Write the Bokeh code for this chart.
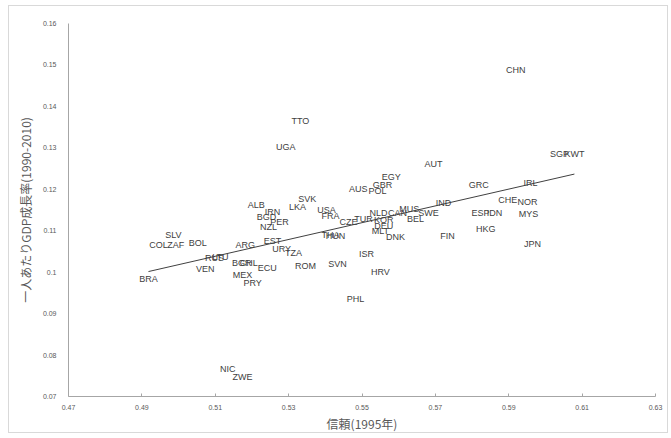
import numpy as np
from bokeh.plotting import figure
from bokeh.models import ColumnDataSource, FixedTicker
from bokeh.core.properties import value
from bokeh.embed import file_html
from bokeh.resources import INLINE

# Country codes, trust in 1995 and per-capita GDP growth 1990-2010
countries = [
    "BRA", "COL", "ZAF", "SLV", "BOL", "VEN", "RUS", "LTU", "BGR", "CHL",
    "MEX", "PRY", "ECU", "ARG", "EST", "NIC", "ZWE", "ALB", "IRN", "LKA",
    "BGD", "PER", "NZL", "URY", "TZA", "ROM", "TTO", "UGA", "SVK", "USA",
    "FRA", "CZE", "TUR", "HUN", "THA", "SVN", "ISR", "HRV", "PHL", "AUS",
    "POL", "GBR", "EGY", "AUT", "NLD", "CAN", "MUS", "SWE", "BEL", "KOR",
    "DEU", "MLT", "DNK", "IND", "FIN", "GRC", "ESP", "IDN", "HKG", "CHE",
    "NOR", "MYS", "JPN", "IRL", "SGP", "KWT", "CHN",
]
trust = [
    0.4918, 0.4945, 0.4992, 0.4986, 0.5052, 0.5073, 0.5098, 0.5114, 0.5172, 0.5191,
    0.5174, 0.5202, 0.5242, 0.5182, 0.5256, 0.5134, 0.5174, 0.5212, 0.5256, 0.5324,
    0.5240, 0.5275, 0.5245, 0.5281, 0.5313, 0.5346, 0.5332, 0.5292, 0.5351, 0.5403,
    0.5414, 0.5463, 0.5504, 0.5428, 0.5414, 0.5433, 0.5512, 0.5550, 0.5482, 0.5490,
    0.5542, 0.5556, 0.5580, 0.5695, 0.5545, 0.5597, 0.5629, 0.5681, 0.5646, 0.5559,
    0.5559, 0.5550, 0.5591, 0.5722, 0.5733, 0.5818, 0.5823, 0.5861, 0.5837, 0.5897,
    0.5951, 0.5954, 0.5965, 0.5959, 0.6038, 0.6079, 0.5919,
]
growth = [
    0.0984, 0.1066, 0.1066, 0.1090, 0.1071, 0.1008, 0.1035, 0.1037, 0.1022, 0.1022,
    0.0994, 0.0974, 0.1010, 0.1066, 0.1075, 0.0767, 0.0748, 0.1162, 0.1145, 0.1157,
    0.1133, 0.1121, 0.1109, 0.1056, 0.1047, 0.1015, 0.1364, 0.1302, 0.1177, 0.1150,
    0.1136, 0.1121, 0.1128, 0.1087, 0.1090, 0.1020, 0.1044, 0.1001, 0.0936, 0.1201,
    0.1196, 0.1210, 0.1229, 0.1261, 0.1143, 0.1143, 0.1152, 0.1143, 0.1128, 0.1126,
    0.1112, 0.1100, 0.1085, 0.1167, 0.1087, 0.1210, 0.1143, 0.1143, 0.1104, 0.1174,
    0.1169, 0.1140, 0.1068, 0.1215, 0.1285, 0.1285, 0.1487,
]

x_ticks = [0.47, 0.49, 0.51, 0.53, 0.55, 0.57, 0.59, 0.61, 0.63]
x_tick_labels = ["0.47", "0.49", "0.51", "0.53", "0.55", "0.57", "0.59", "0.61", "0.63"]
y_ticks = [0.07, 0.08, 0.09, 0.10, 0.11, 0.12, 0.13, 0.14, 0.15, 0.16]
y_tick_labels = ["0.07", "0.08", "0.09", "0.1", "0.11", "0.12", "0.13", "0.14", "0.15", "0.16"]

x_title = "信頼(1995年)"
y_title = "一人あたりGDP成長率(1990-2010)"

FONT = "Liberation Sans"
CJK = "Noto Sans CJK JP"

p = figure(
    width=660, height=428,
    x_range=(0.47, 0.63), y_range=(0.07, 0.16),
    output_backend="svg", toolbar_location=None,
    min_border_left=59, min_border_right=14, min_border_top=17, min_border_bottom=37,
    background_fill_color="white", border_fill_color="white",
)
p.styles = {"margin-left": "8px", "margin-top": "5px", "border": "1px solid #d9d9d9"}
p.outline_line_color = None
p.grid.grid_line_color = None

for ax in (p.xaxis[0], p.yaxis[0]):
    ax.axis_line_color = "#a6a6a6"
    ax.major_tick_line_color = "#a6a6a6"
    ax.minor_tick_line_color = None
    ax.major_label_text_font = FONT
    ax.major_label_text_font_size = "7px"
    ax.major_label_text_color = "#595959"
    ax.axis_label_text_font = CJK
    ax.axis_label_text_font_style = "normal"
    ax.axis_label_text_color = "#595959"
    ax.axis_label_text_font_size = "12px"

p.xaxis.ticker = FixedTicker(ticks=x_ticks)
p.xaxis.major_label_overrides = dict(zip(x_ticks, x_tick_labels))
p.xaxis.major_tick_in = 3
p.xaxis.major_tick_out = 0
p.xaxis.major_label_standoff = 8
p.xaxis.axis_label = x_title
p.xaxis.axis_label_standoff = 2

p.yaxis.ticker = FixedTicker(ticks=y_ticks)
p.yaxis.major_label_overrides = dict(zip(y_ticks, y_tick_labels))
p.yaxis.major_tick_in = 0
p.yaxis.major_tick_out = 0
p.yaxis.major_label_standoff = 12
p.yaxis.axis_label = y_title
p.yaxis.axis_label_standoff = 6

# Linear trend over all countries
slope, intercept = np.polyfit(trust, growth, 1)
xs = np.array([min(trust), max(trust)])
p.line(xs, slope * xs + intercept, line_color="#404040", line_width=1)

src = ColumnDataSource(dict(x=trust, y=growth, name=countries))
p.text(x="x", y="y", text="name", source=src,
       text_font=value(FONT), text_font_size="9px", text_color="#404040",
       text_align="center", text_baseline="middle")

open("out.html", "w").write(file_html(p, INLINE))
